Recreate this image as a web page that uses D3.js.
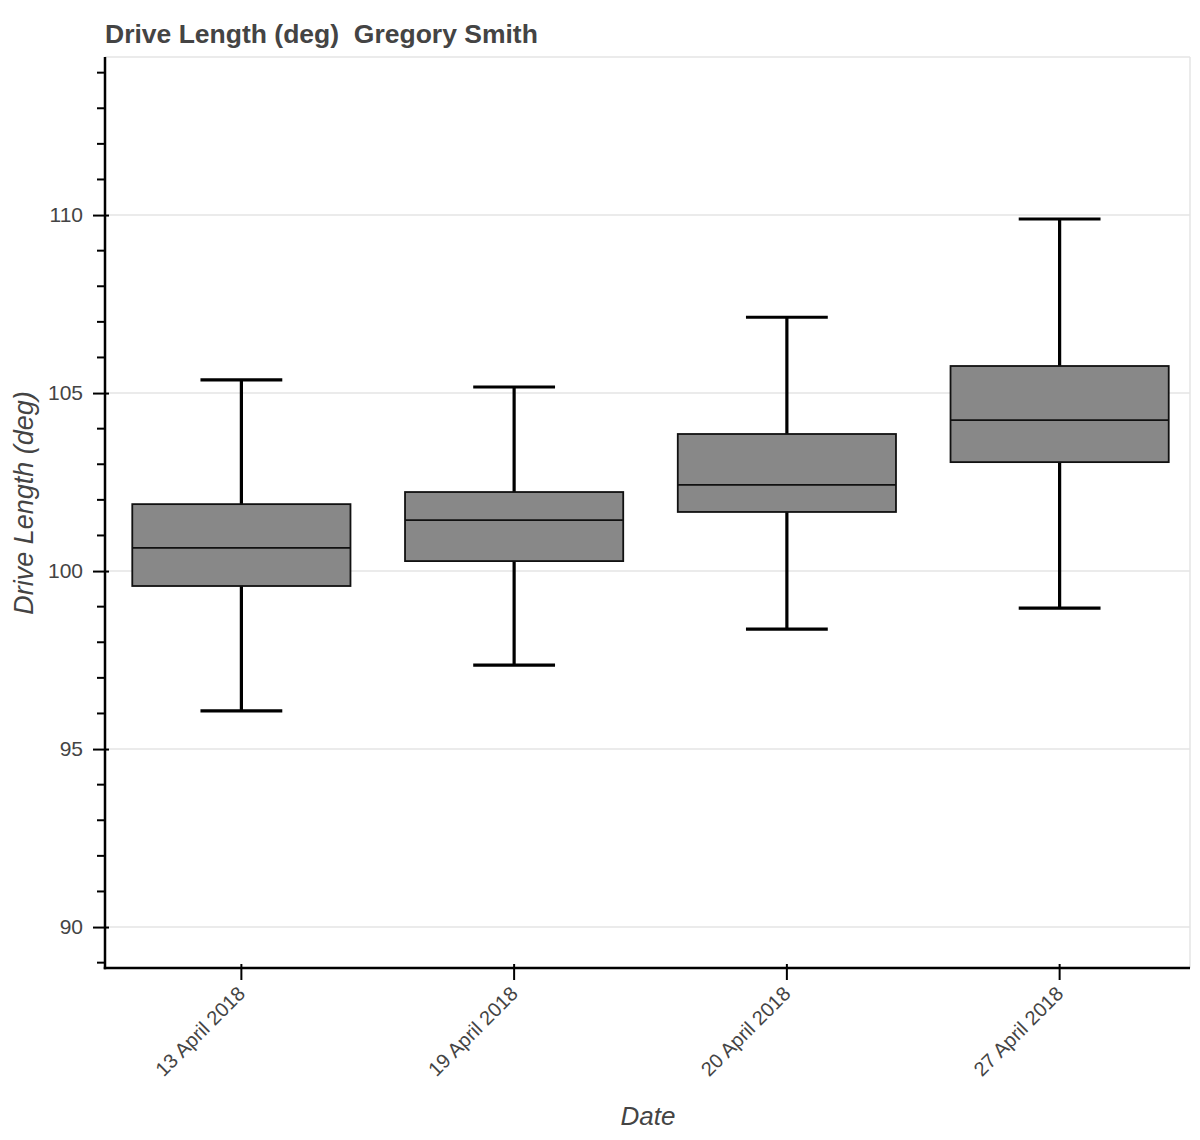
<!DOCTYPE html>
<html>
<head>
<meta charset="utf-8">
<script src="https://cdn.jsdelivr.net/npm/d3@7"></script>
<style>
  body { margin: 0; background: #fff; }
  text { font-family: "Liberation Sans", Helvetica, Arial, sans-serif; }
</style>
</head>
<body>
<div id="chart"></div>
<script>
// data
var dates = ["13 April 2018", "19 April 2018", "20 April 2018", "27 April 2018"];
var lowerWhisker = [96.07, 97.36, 98.37, 98.96];
var q1Values = [99.58, 100.28, 101.66, 103.06];
var medianValues = [100.65, 101.43, 102.42, 104.24];
var q3Values = [101.88, 102.22, 103.85, 105.76];
var upperWhisker = [105.37, 105.17, 107.13, 109.89];
var yTicks = [90, 95, 100, 105, 110];

var W = 1200, H = 1140;
var m = {left: 105, right: 10, top: 57, bottom: 172};
var pw = W - m.left - m.right, ph = H - m.top - m.bottom;

var data = dates.map(function(d, i) {
  return {date: d, lo: lowerWhisker[i], q1: q1Values[i], med: medianValues[i], q3: q3Values[i], hi: upperWhisker[i]};
});

var svg = d3.select("#chart").append("svg")
  .attr("width", W).attr("height", H);

var x = d3.scaleBand().domain(dates).range([0, 1091]);
var y = d3.scaleLinear().domain([88.85, 114.44]).range([ph, 0]);

var g = svg.append("g").attr("transform", "translate(" + m.left + "," + m.top + ")");

// grid + outline
g.selectAll(".grid").data(yTicks).enter().append("line")
  .attr("x1", 0).attr("x2", pw)
  .attr("y1", function(d) { return y(d); }).attr("y2", function(d) { return y(d); })
  .attr("stroke", "#e5e5e5").attr("stroke-width", 1.5);
g.append("line").attr("x1", 0).attr("x2", pw).attr("y1", 0).attr("y2", 0)
  .attr("stroke", "#e5e5e5").attr("stroke-width", 1.5);
g.append("line").attr("x1", pw).attr("x2", pw).attr("y1", 0).attr("y2", ph)
  .attr("stroke", "#e5e5e5").attr("stroke-width", 1.5);

var boxW = x.bandwidth() * 0.8, capW = x.bandwidth() * 0.3;

var items = g.selectAll(".box").data(data).enter().append("g")
  .attr("class", "box")
  .attr("transform", function(d) { return "translate(" + (x(d.date) + x.bandwidth() / 2) + ",0)"; });

// whiskers
items.append("line").attr("x1", 0).attr("x2", 0)
  .attr("y1", function(d) { return y(d.hi); }).attr("y2", function(d) { return y(d.q3); })
  .attr("stroke", "#000").attr("stroke-width", 3.2);
items.append("line").attr("x1", 0).attr("x2", 0)
  .attr("y1", function(d) { return y(d.q1); }).attr("y2", function(d) { return y(d.lo); })
  .attr("stroke", "#000").attr("stroke-width", 3.2);
items.append("line").attr("x1", -capW / 2).attr("x2", capW / 2)
  .attr("y1", function(d) { return y(d.hi); }).attr("y2", function(d) { return y(d.hi); })
  .attr("stroke", "#000").attr("stroke-width", 3.2);
items.append("line").attr("x1", -capW / 2).attr("x2", capW / 2)
  .attr("y1", function(d) { return y(d.lo); }).attr("y2", function(d) { return y(d.lo); })
  .attr("stroke", "#000").attr("stroke-width", 3.2);

// box
items.append("rect")
  .attr("x", -boxW / 2).attr("width", boxW)
  .attr("y", function(d) { return y(d.q3); })
  .attr("height", function(d) { return y(d.q1) - y(d.q3); })
  .attr("fill", "#888")
  .attr("stroke", "#111").attr("stroke-width", 1.8);
items.append("line").attr("x1", -boxW / 2).attr("x2", boxW / 2)
  .attr("y1", function(d) { return y(d.med); }).attr("y2", function(d) { return y(d.med); })
  .attr("stroke", "#111").attr("stroke-width", 1.8);

// y axis
var yAxis = g.append("g")
  .call(d3.axisLeft(y).tickValues(yTicks).tickSize(12).tickPadding(10).tickFormat(d3.format("d")));
yAxis.select(".domain").remove();
yAxis.selectAll(".tick line").attr("x2", -12).attr("x1", 4).attr("stroke", "#000").attr("stroke-width", 2);
yAxis.selectAll(".tick text").attr("fill", "#444").style("font-size", "21px");

var minor = d3.range(89, 115).filter(function(v) { return yTicks.indexOf(v) < 0; });
g.selectAll(".minor").data(minor).enter().append("line")
  .attr("x1", -8).attr("x2", 0)
  .attr("y1", function(d) { return y(d); }).attr("y2", function(d) { return y(d); })
  .attr("stroke", "#000").attr("stroke-width", 2);

g.append("line").attr("x1", 0).attr("x2", 0).attr("y1", 0).attr("y2", ph + 1.25)
  .attr("stroke", "#000").attr("stroke-width", 2.5);

// x axis
var xAxis = g.append("g").attr("transform", "translate(0," + ph + ")")
  .call(d3.axisBottom(x).tickSize(12).tickPadding(6));
xAxis.select(".domain").remove();
xAxis.selectAll(".tick line").attr("y1", -4).attr("y2", 12).attr("stroke", "#000").attr("stroke-width", 2);
xAxis.selectAll(".tick text")
  .attr("fill", "#444").style("font-size", "20px")
  .attr("text-anchor", "end")
  .attr("dy", "0.35em")
  .attr("transform", "translate(0,22) rotate(-45)")
  .attr("y", 0).attr("x", 0);
g.append("line").attr("x1", -1.25).attr("x2", pw).attr("y1", ph).attr("y2", ph)
  .attr("stroke", "#000").attr("stroke-width", 2.5);

// labels
svg.append("text").attr("x", 105).attr("y", 43)
  .attr("fill", "#444").style("font-size", "26.5px").style("font-weight", "bold")
  .style("white-space", "pre")
  .text("Drive Length (deg)  Gregory Smith");
svg.append("text")
  .attr("transform", "translate(33,503) rotate(-90)")
  .attr("text-anchor", "middle")
  .attr("fill", "#444").style("font-size", "27px").style("font-style", "italic")
  .text("Drive Length (deg)");
svg.append("text").attr("x", 648).attr("y", 1125)
  .attr("text-anchor", "middle")
  .attr("fill", "#444").style("font-size", "26px").style("font-style", "italic")
  .text("Date");
</script>
</body>
</html>
